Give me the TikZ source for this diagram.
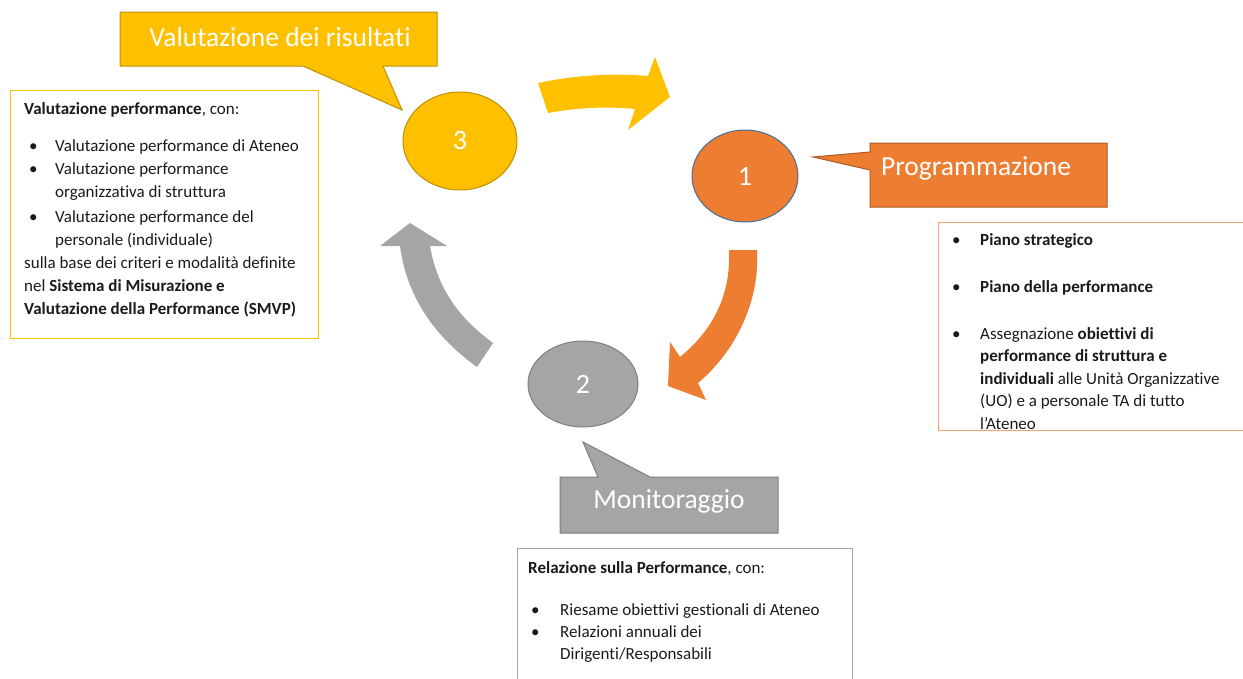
\documentclass[tikz,border=0pt]{standalone}
\usepackage{fontspec}
\setmainfont{Carlito}[Ligatures=NoCommon]
\usetikzlibrary{shapes.geometric}
\definecolor{gold}{HTML}{FFC000}
\definecolor{goldline}{HTML}{BF9000}
\definecolor{orng}{HTML}{ED7D31}
\definecolor{orngline}{HTML}{AE5A21}
\definecolor{orngbox}{HTML}{F4A46A}
\definecolor{gry}{HTML}{A5A5A5}
\definecolor{gryline}{HTML}{7F7F7F}
\definecolor{blueline}{HTML}{41719C}
\definecolor{txt}{HTML}{1A1A1A}
\newcommand{\bul}{\hspace*{5pt}\makebox[26pt][l]{\textbullet}}
\newcommand{\hang}{\hspace*{31pt}}
\begin{document}
\begin{tikzpicture}[x=1pt,y=-1pt,
  phase/.style={ellipse, inner sep=0pt, line width=1pt, text=white,
    font=\fontsize{28}{32}\selectfont},
  callouttext/.style={text=white, inner sep=0pt, font=\fontsize{27.5}{32}\selectfont},
  bodytext/.style={text=txt, inner sep=0pt, align=left, anchor=north west,
    font=\fontsize{17}{23}\selectfont},
  infobox/.style={line width=1pt}
]
\useasboundingbox (0,0) rectangle (1243,678);
\clip (0,0) rectangle (1243,678);

% ---------- callout: Valutazione dei risultati ----------
\filldraw[fill=gold, draw=goldline, line width=1pt]
  (120,12) -- (437,12) -- (437,66) -- (383,66) -- (402,110) -- (303,66) -- (120,66) -- cycle;
\node[callouttext] (tval) at (280,37) {Valutazione dei risultati};

% ---------- callout: Programmazione ----------
\filldraw[fill=orng, draw=orngline, line width=1pt]
  (870,143) -- (1107,143) -- (1107,207) -- (870,207) -- (870,170) -- (813,157) -- (870,152) -- cycle;
\node[callouttext] (tprog) at (976,168) {Programmazione};

% ---------- callout: Monitoraggio ----------
\filldraw[fill=gry, draw=gryline, line width=1pt]
  (560,477) -- (598,477) -- (583,442) -- (650,477) -- (778,477) -- (778,533) -- (560,533) -- cycle;
\node[callouttext] (tmon) at (669,501) {Monitoraggio};

% ---------- phase circles ----------
\node[phase, fill=gold, draw=goldline, minimum width=114pt, minimum height=98pt] (c3) at (460,141) {3};
\node[phase, fill=orng, draw=blueline, minimum width=106pt, minimum height=92pt] (c1) at (745,176) {1};
\node[phase, fill=gry, draw=gryline, minimum width=110pt, minimum height=86pt] (c2) at (583,384) {2};

% ---------- curved arrows ----------
% yellow: 3 -> 1
\fill[gold] (538,83) .. controls (575,75) and (615,73) .. (648,76)
  -- (655,57) -- (670,97) -- (628,130) -- (635,109)
  .. controls (605,106) and (575,108) .. (548,113) -- cycle;
% orange: 1 -> 2
\fill[orng] (729,250) -- (757,250)
  .. controls (760,300) and (737,350) .. (698,383)
  -- (706,400) -- (668,386) -- (670,342) -- (680,357)
  .. controls (713,330) and (731,295) .. (729,250) -- cycle;
% gray: 2 -> 3
\fill[gry] (493,343) .. controls (455,315) and (437,285) .. (430,246)
  -- (447,246) -- (410,223) -- (380,246) -- (400,246)
  .. controls (405,285) and (425,330) .. (477,367) -- cycle;

% ---------- info box left (gold) ----------
\draw[infobox, draw=gold] (10,90) rectangle (318,338);
\node[bodytext] (tleft) at (24,102) {%
\textbf{Valutazione performance}, con:\\[14pt]
\bul Valutazione performance di Ateneo\\
\bul Valutazione performance\\
\hang organizzativa di struttura\\[2pt]
\bul Valutazione performance del\\
\hang personale (individuale)\\
sulla base dei criteri e modalità definite\\
nel \textbf{Sistema di Misurazione e}\\
\textbf{Valutazione della Performance (SMVP)}};

% ---------- info box right (orange) ----------
\draw[infobox, draw=orngbox] (938,222) rectangle (1260,430);
\node[bodytext, font=\fontsize{17}{22.5}\selectfont] (tright) at (950,233) {%
\hspace*{2pt}\makebox[28pt][l]{\textbullet}\textbf{Piano strategico}\\[25pt]
\hspace*{2pt}\makebox[28pt][l]{\textbullet}\textbf{Piano della performance}\\[24pt]
\hspace*{2pt}\makebox[28pt][l]{\textbullet}Assegnazione \textbf{obiettivi di}\\
\hspace*{30pt}\textbf{performance di struttura e}\\
\hspace*{30pt}\textbf{individuali} alle Unità Organizzative\\
\hspace*{30pt}(UO) e a personale TA di tutto\\
\hspace*{30pt}l’Ateneo};

% ---------- info box bottom (gray) ----------
\draw[infobox, draw=gry] (517,548) rectangle (852,700);
\node[bodytext, font=\fontsize{17}{22}\selectfont] (tbottom) at (528,561) {%
\textbf{Relazione sulla Performance}, con:\\[20pt]
\hspace*{3pt}\makebox[29pt][l]{\textbullet}Riesame obiettivi gestionali di Ateneo\\
\hspace*{3pt}\makebox[29pt][l]{\textbullet}Relazioni annuali dei\\
\hspace*{32pt}Dirigenti/Responsabili};

\end{tikzpicture}
\end{document}
